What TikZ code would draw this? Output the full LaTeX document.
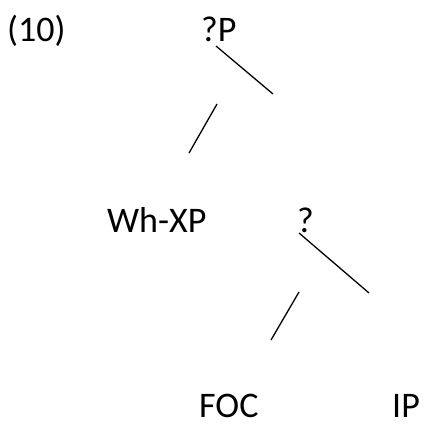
\documentclass[tikz,border=0pt]{standalone}
\usepackage{fontspec}
\setmainfont{Carlito}
\usepackage{tikz}
\usetikzlibrary{positioning}

\begin{document}
\begin{tikzpicture}[x=1pt, y=-1pt,
            lbl/.style={inner sep=0pt, anchor=base west, font=\fontsize{36}{42}\selectfont},
            branch/.style={line width=1.3pt}]
            \useasboundingbox (0,0) rectangle (423,425);

            % labels
            \node[lbl] (ex) at (7,42) {(10)};
            \node[lbl] (qP) at (201,42) {?P};
            \node[lbl] (whXP) at (107,232) {Wh-XP};
            \node[lbl] (q) at (297,232) {?};
            \node[lbl] (foc) at (199,417) {FOC};
            \node[lbl] (ip) at (392,417) {IP};

            % branch ends
            \coordinate (qP_r1) at (216,46);
            \coordinate (qP_r2) at (273,94);
            \coordinate (qP_l1) at (217,104);
            \coordinate (qP_l2) at (189,153);
            \coordinate (q_r1) at (299,233);
            \coordinate (q_r2) at (369,293);
            \coordinate (q_l1) at (299,292);
            \coordinate (q_l2) at (271,340);

            \draw[branch] (qP_r1) -- (qP_r2);
            \draw[branch] (qP_l1) -- (qP_l2);
            \draw[branch] (q_r1) -- (q_r2);
            \draw[branch] (q_l1) -- (q_l2);
        \end{tikzpicture}
\end{document}
